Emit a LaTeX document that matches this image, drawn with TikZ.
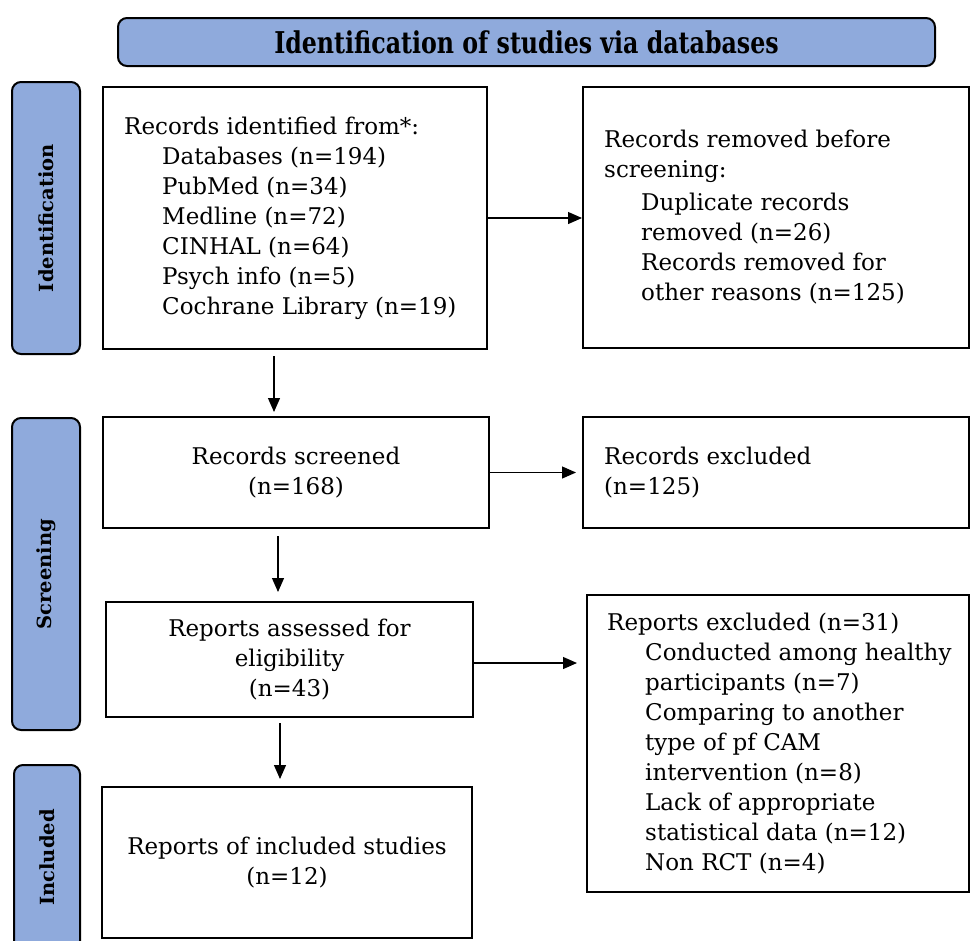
\documentclass[tikz,border=0pt]{standalone}
\usepackage{fontspec}
\setmainfont{DejaVu Serif}
\newfontfamily\titlefont[FakeStretch=0.79]{DejaVu Serif}
\usetikzlibrary{arrows.meta}
\definecolor{phase}{RGB}{143,170,220}
\begin{document}
\begin{tikzpicture}[x=1pt,y=-1pt,
  box/.style={draw, line width=2pt, rectangle, inner sep=0pt},
  body/.style={font=\fontsize{23}{30}\selectfont},
  txt/.style={body, align=left, inner sep=0pt, anchor=west},
  phasebox/.style={draw, line width=2pt, fill=phase, rounded corners=9pt, inner sep=0pt},
  phaselab/.style={phasebox},
  phasetxt/.style={font=\fontsize{19.5}{22}\selectfont\bfseries, rotate=90},
  arr/.style={-{Triangle[length=14pt,width=12pt]}, line width=1.2pt}]
\useasboundingbox (0,0) rectangle (971,940);

% title
\node[phasebox, minimum width=817pt, minimum height=48pt,
      font=\titlefont\fontsize{30}{34}\selectfont\bfseries] (title) at (526.5,42)
      {Identification of studies via databases};

% phase labels
\node[phaselab, minimum width=68pt, minimum height=272pt] (idlab) at (46,218) {};
\node[phasetxt] (idlabt) at (idlab.center) {Identification};
\node[phaselab, minimum width=68pt, minimum height=312pt] (scrlab) at (46,574) {};
\node[phasetxt] (scrlabt) at (scrlab.center) {Screening};
\node[phaselab, minimum width=66pt, minimum height=185pt] (inclab) at (47,857.5) {};
\node[phasetxt] (inclabt) at (inclab.center) {Included};

% boxes
\node[box, minimum width=384pt, minimum height=262pt] (ident) at (295,218) {};
\node[txt] (identt) at ([xshift=22pt]ident.west)
  {Records identified from*:\\
   \hspace*{38pt}Databases (n=194)\\
   \hspace*{38pt}PubMed (n=34)\\
   \hspace*{38pt}Medline (n=72)\\
   \hspace*{38pt}CINHAL (n=64)\\
   \hspace*{38pt}Psych info (n=5)\\
   \hspace*{38pt}Cochrane Library (n=19)};

\node[box, minimum width=386pt, minimum height=261pt] (removed) at (776,217.5) {};
\node[txt] (removedt) at ([xshift=22pt]removed.west)
  {Records removed before\\
   screening:\\[3pt]
   \hspace*{37pt}Duplicate records\\
   \hspace*{37pt}removed (n=26)\\
   \hspace*{37pt}Records removed for\\
   \hspace*{37pt}other reasons (n=125)};

\node[box, body, align=center, minimum width=386pt, minimum height=111pt] (screened) at (296,472.5)
  {Records screened\\(n=168)};

\node[box, minimum width=386pt, minimum height=111pt] (excluded) at (776,472.5) {};
\node[txt] (excludedt) at ([xshift=22pt]excluded.west)
  {Records excluded\\(n=125)};

\node[box, body, align=center, minimum width=367pt, minimum height=115pt] (assessed) at (289.5,659.5)
  {Reports assessed for\\eligibility\\(n=43)};

\node[box, minimum width=382pt, minimum height=297pt] (repexcl) at (778,743.5) {};
\node[txt] (repexclt) at ([xshift=21pt]repexcl.west)
  {Reports excluded (n=31)\\
   \hspace*{38pt}Conducted among healthy\\
   \hspace*{38pt}participants (n=7)\\
   \hspace*{38pt}Comparing to another\\
   \hspace*{38pt}type of pf CAM\\
   \hspace*{38pt}intervention (n=8)\\
   \hspace*{38pt}Lack of appropriate\\
   \hspace*{38pt}statistical data (n=12)\\
   \hspace*{38pt}Non RCT (n=4)};

\node[box, body, align=center, minimum width=370pt, minimum height=151pt] (included) at (287,862.5)
  {Reports of included studies\\(n=12)};

% connectors
\draw[arr] (ident.east) -- (ident.east -| removed.west);
\draw[arr, shorten <=6pt, shorten >=4pt] ([xshift=-21pt]ident.south) -- ([xshift=-21pt]ident.south |- screened.north);
\draw[arr, shorten >=6pt] (screened.east) -- (screened.east -| excluded.west);
\draw[arr, shorten <=7pt, shorten >=9pt] ([xshift=-18pt]screened.south) -- ([xshift=-18pt]screened.south |- assessed.north);
\draw[arr, shorten >=9pt] ([yshift=-3.5pt]assessed.east) -- ([yshift=-3.5pt]assessed.east -| repexcl.west);
\draw[arr, shorten <=5pt, shorten >=7pt] ([xshift=-9.5pt]assessed.south) -- ([xshift=-9.5pt]assessed.south |- included.north);
\end{tikzpicture}
\end{document}
